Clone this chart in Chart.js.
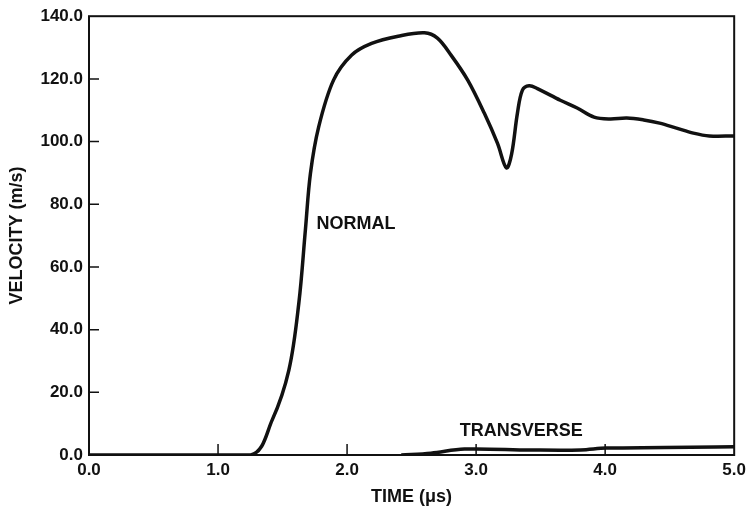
<!DOCTYPE html>
<html>
<head>
<meta charset="utf-8">
<script src="https://cdn.jsdelivr.net/npm/chart.js@4.4.1/dist/chart.umd.min.js"></script>
<style>
  html, body { margin: 0; padding: 0; background: #fff; }
  #wrap { width: 751px; height: 516px; }
</style>
</head>
<body>
<div id="wrap"><canvas id="velocity-canvas" width="751" height="516"></canvas></div>
<script>
// time in microseconds, velocity in m/s
let normalTime = [0, 1.253, 1.42, 1.549, 1.626, 1.677, 1.716, 1.78, 1.895, 2.036, 2.19,
    2.396, 2.6, 2.7, 2.807, 2.935, 3.064, 3.166, 3.235, 3.275, 3.32, 3.359, 3.411, 3.475, 3.652,
    3.783, 3.914, 4.037, 4.168, 4.299, 4.422, 4.553, 4.684, 4.807, 5.0];
let normalVelocity = [0, 0, 11.2, 27.1, 48.4, 71.8, 89.8, 104.7, 119.6, 127.6, 131.3,
    133.6, 134.7, 133.0, 127.5, 119.6, 109.0, 99.4, 91.6, 96.0, 109.0, 116.4, 117.8, 116.9, 113.2,
    110.7, 107.8, 107.2, 107.5, 106.9, 105.9, 104.3, 102.7, 101.8, 101.8];

let transverseTime = [2.42, 2.65, 2.91, 3.42, 3.81, 4.01, 5.0];
let transverseVelocity = [0, 0.6, 1.9, 1.6, 1.6, 2.2, 2.6];

let timeTicks = [0, 1, 2, 3, 4, 5];
let velocityTicks = [0, 20, 40, 60, 80, 100, 120, 140];

let curveLabels = [
    { text: 'NORMAL', x: 1.764, y: 73.7 },
    { text: 'TRANSVERSE', x: 2.874, y: 7.7 }
];

const ink = '#111';
const family = '"Liberation Sans", Arial, sans-serif';
const tickFont = { family: family, size: 17, weight: 'bold' };
const titleFont = { family: family, size: 18, weight: 'bold' };

function toPoints(xs, ys) {
    return xs.map((x, i) => ({ x: x, y: ys[i] }));
}

// frame, inward ticks and the curve names
const framePlugin = {
    id: 'frame',
    afterDatasetsDraw(chart) {
        const { ctx, chartArea: a, scales: { x, y } } = chart;
        ctx.save();
        ctx.strokeStyle = ink;
        ctx.lineWidth = 2;
        ctx.strokeRect(a.left, a.top, a.right - a.left, a.bottom - a.top);
        ctx.lineWidth = 1.5;
        ctx.beginPath();
        timeTicks.slice(1, -1).forEach(t => {
            const px = x.getPixelForValue(t);
            ctx.moveTo(px, a.bottom);
            ctx.lineTo(px, a.bottom - 11);
        });
        velocityTicks.slice(1, -1).forEach(v => {
            const py = y.getPixelForValue(v);
            ctx.moveTo(a.left, py);
            ctx.lineTo(a.left + 10, py);
        });
        ctx.stroke();
        ctx.fillStyle = ink;
        ctx.font = 'bold 18px ' + family;
        ctx.textAlign = 'left';
        ctx.textBaseline = 'middle';
        curveLabels.forEach(l => {
            ctx.fillText(l.text, x.getPixelForValue(l.x), y.getPixelForValue(l.y));
        });
        ctx.restore();
    }
};

let velocityCtx = document.getElementById('velocity-canvas').getContext('2d');

let velocityChart = new Chart(velocityCtx, {
    type: 'line',
    data: {
        datasets: [{
            label: 'Normal',
            data: toPoints(normalTime, normalVelocity),
            borderColor: ink,
            borderWidth: 3.5,
            tension: 0.35,
            pointRadius: 0
        }, {
            label: 'Transverse',
            data: toPoints(transverseTime, transverseVelocity),
            borderColor: ink,
            borderWidth: 3.5,
            tension: 0.35,
            pointRadius: 0
        }]
    },
    options: {
        responsive: false,
        animation: false,
        layout: {
            padding: { left: 0, right: 13, top: 16, bottom: 0 }
        },
        plugins: {
            legend: { display: false },
            tooltip: { enabled: false }
        },
        scales: {
            x: {
                type: 'linear',
                min: 0,
                max: 5,
                afterBuildTicks: s => { s.ticks = timeTicks.map(v => ({ value: v })); },
                afterFit: s => { s.height = 61; },
                grid: { display: false, drawTicks: false },
                border: { display: false },
                ticks: {
                    color: ink,
                    font: tickFont,
                    padding: 5,
                    maxRotation: 0,
                    callback: v => v.toFixed(1)
                },
                title: {
                    display: true,
                    text: 'TIME (\u03bcs)',
                    color: ink,
                    font: titleFont,
                    padding: { top: 0, bottom: 8 }
                }
            },
            y: {
                min: 0,
                max: 140,
                afterBuildTicks: s => { s.ticks = velocityTicks.map(v => ({ value: v })); },
                afterFit: s => { s.width = 89; },
                grid: { display: false, drawTicks: false },
                border: { display: false },
                ticks: {
                    color: ink,
                    font: tickFont,
                    padding: 6,
                    callback: v => v.toFixed(1)
                },
                title: {
                    display: true,
                    text: 'VELOCITY (m/s)',
                    color: ink,
                    font: titleFont,
                    padding: { top: 6, bottom: 0 }
                }
            }
        }
    },
    plugins: [framePlugin]
});
</script>
</body>
</html>
